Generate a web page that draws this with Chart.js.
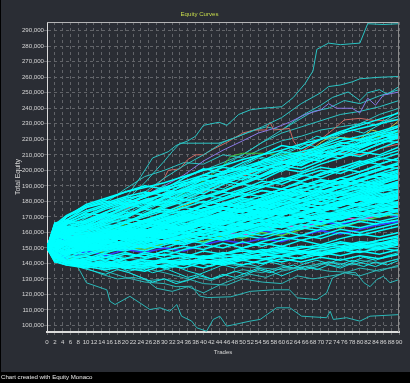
<!DOCTYPE html>
<html>
<head>
<meta charset="utf-8">
<script src="https://cdn.jsdelivr.net/npm/chart.js@4/dist/chart.umd.min.js"></script>
<style>
html,body{margin:0;padding:0;background:#000;}
canvas{display:block;}
</style>
</head>
<body>
<canvas id="c" width="410" height="383"></canvas>
<script>
// ---------------- DATA (equity in thousands) ----------------
const chartTitle = 'Equity Curves';
const xTitle = 'Trades';
const yTitle = 'Total Equity';
const footerText = 'Chart created with Equity Monaco';

// y tick labels (thousands)
const yTickValuesK = [100,110,120,130,140,150,160,170,180,190,200,210,220,230,240,250,260,270,280,290];

// trade numbers shared by the bulk of the simulated curves
const bulkTrades = [0,2,5,10,15,20,25,30,35,40,45,50,55,60,65,70,75,80,85,90];

// bulk curves: equity (thousands) at each of bulkTrades
const bulkEquityK = [
[150,156,154,157,160,158,163,166,170,168,172,175,178,176,180,183,186,184,188,191],
[150,143,147,151,155,153,150,154,157,160,158,162,165,163,167,170,168,172,175,177],
[150,158,160,159,156,161,165,163,168,172,175,173,178,182,180,185,189,187,191,195],
[150,145,141,143,147,150,148,152,155,153,157,160,158,161,165,163,166,169,167,170],
[150,157,153,150,154,157,160,158,162,165,163,167,171,174,172,176,179,182,180,184],
[150,161,163,160,164,162,167,171,174,172,177,181,179,184,188,186,190,194,197,200],
[150,147,150,153,151,155,158,156,160,163,161,164,168,166,170,173,171,175,178,176],
[150,153,152,148,152,149,153,157,155,159,156,160,163,161,158,162,165,163,166,168],
[150,159,164,161,165,169,167,172,176,180,178,183,187,185,190,194,192,197,201,204],
[150,141,145,150,153,157,155,159,163,161,166,169,167,171,175,173,178,181,179,183],
[150,152,156,156,153,157,161,165,163,167,171,169,174,178,176,181,184,182,186,189],
[150,144,140,141,144,140,143,146,144,148,146,150,153,151,155,152,156,159,157,160],
[150,160,157,152,156,160,158,163,161,165,169,167,171,175,178,176,180,183,181,185],
[150,163,166,163,161,166,170,174,172,177,181,185,183,188,192,190,195,199,203,201],
[150,149,152,155,159,157,162,160,164,167,171,169,173,171,175,179,177,181,184,187],
[150,146,144,145,149,152,150,154,152,156,159,157,161,164,162,166,169,172,170,174],
[150,155,151,156,154,158,162,160,165,169,173,171,176,180,178,182,186,189,187,192],
[150,162,158,153,158,156,161,165,169,167,171,175,173,178,181,179,184,187,191,189],
[150,152,147,152,149,153,151,155,158,156,160,163,166,164,168,165,169,172,175,173],
[150,147,154,158,162,166,164,169,173,177,175,180,184,188,186,191,195,193,198,202],
[150,142,143,149,152,150,155,153,157,161,159,163,166,170,168,172,170,174,177,180],
[150,158,157,157,161,159,163,167,171,169,173,177,175,180,183,187,185,189,193,196],
[150,155,153,149,153,157,155,158,156,160,164,162,165,169,167,171,174,178,176,179],
[150,144,142,145,142,146,144,148,151,149,153,150,154,157,155,158,162,160,163,166],
[150,164,162,159,157,162,166,170,168,173,176,174,179,183,181,186,189,193,191,195],
[150,151,155,155,158,162,160,164,168,166,170,174,172,176,180,183,181,185,188,186],
[150,146,148,153,157,155,159,157,161,165,163,167,170,168,172,176,174,178,181,185],
[150,157,156,151,155,153,157,161,159,163,166,164,168,166,170,173,171,175,178,182],
[150,166,168,164,168,173,171,176,180,184,182,187,191,195,193,198,202,206,204,208],
[150,150,146,152,150,154,158,156,160,158,162,166,164,168,171,169,173,176,180,178],
[150,147,141,142,146,143,147,145,149,152,150,154,151,155,158,156,160,158,161,164],
[150,153,158,160,158,163,167,165,170,174,178,176,181,185,183,188,192,190,194,198],
[150,158,155,150,153,157,161,159,163,167,165,169,173,171,175,179,177,181,185,183],
[150,146,151,154,158,156,160,164,162,166,170,168,172,176,180,178,182,185,189,192],
[150,163,161,155,160,164,168,166,171,175,173,178,182,186,184,189,193,191,195,199],
[150,151,147,146,150,148,152,155,153,157,155,159,162,160,164,168,166,169,172,171],
[150,160,157,157,161,159,164,168,172,170,175,179,177,182,186,184,189,193,197,195],
[150,143,149,148,151,155,153,157,160,158,162,165,163,167,170,168,172,175,173,177],
[150,156,159,158,156,161,159,163,167,171,169,174,177,175,180,183,181,186,189,193],
[150,152,146,150,148,152,156,154,158,161,159,163,161,165,168,166,170,173,171,175],
[150,165,164,162,167,171,175,173,178,182,186,184,189,193,197,195,200,204,208,206],
[150,148,153,149,153,151,155,159,157,161,159,163,166,164,167,171,169,172,176,174],
[150,155,153,155,153,157,161,165,163,168,172,170,175,173,177,181,179,183,187,190],
[150,161,161,154,158,163,161,166,170,168,172,176,180,178,183,187,185,190,193,197],
[150,145,147,151,155,153,157,161,159,163,167,165,169,173,171,175,179,177,181,184],
[150,158,157,156,160,164,168,166,171,175,179,177,182,186,190,188,193,197,195,200],
[150,148,143,148,145,149,147,150,148,152,155,153,156,154,158,161,159,162,165,167],
[150,161,158,152,156,160,158,162,166,164,168,172,170,174,178,176,180,184,182,186],
[150,154,152,153,157,155,159,163,161,165,163,167,171,169,172,176,180,178,182,185],
[150,165,167,166,171,176,180,178,184,189,193,191,196,201,199,204,208,212,210,215],
[150,146,148,147,151,149,152,150,154,157,155,158,156,160,163,161,164,167,165,168],
[150,159,157,158,162,160,165,169,167,172,176,174,179,183,181,186,190,188,192,196],
[150,149,153,155,153,157,155,159,163,161,165,169,167,171,175,173,177,181,179,182],
[150,162,162,163,168,166,172,177,181,179,184,188,193,191,196,200,198,203,207,211],
[150,144,146,150,154,152,156,154,158,156,160,164,162,166,164,168,172,170,174,177],
[150,159,156,151,155,159,157,161,165,169,167,171,175,179,177,181,185,183,187,191],
[150,152,149,154,158,162,160,164,162,166,170,174,172,176,180,178,182,186,190,188],
[150,143,142,149,147,151,149,153,156,154,158,156,160,158,162,165,163,167,170,172],
[150,162,160,161,165,163,168,172,176,174,179,183,187,185,190,194,192,197,201,205],
[150,148,153,156,160,158,156,160,164,168,166,170,174,172,176,174,178,182,180,184],
[150,158,158,152,149,153,151,155,158,156,160,158,162,165,163,166,170,168,171,175],
[150,166,162,156,161,166,164,169,173,177,175,180,178,183,187,191,189,194,198,196],
[150,153,150,155,159,163,167,171,169,174,178,182,180,185,189,193,191,196,200,204],
[150,142,146,151,155,159,157,161,159,163,167,165,169,173,171,175,179,177,181,179],
[150,156,155,150,148,152,150,154,152,156,160,158,161,159,163,167,165,169,172,170],
[150,160,159,159,163,167,171,175,173,178,182,186,190,188,193,197,201,199,204,208],
[150,147,147,153,157,155,159,157,161,165,169,167,171,175,173,177,175,179,183,187],
[150,164,159,152,157,161,165,169,167,171,175,173,177,181,185,183,187,191,189,193],
[150,150,155,156,154,150,154,158,156,160,163,161,165,168,166,170,173,171,175,178],
[150,163,161,162,166,171,175,180,178,183,187,191,189,194,198,202,200,205,209,213],
[150,143,140,140,137,140,138,141,139,142,140,143,146,144,147,145,148,151,149,152],
[150,145,143,142,145,141,138,142,140,137,141,139,142,145,143,146,149,147,150,148],
[150,142,141,139,142,138,141,137,140,144,142,145,143,141,144,147,145,148,146,149],
[150,149,145,143,140,143,146,143,146,144,147,145,148,151,148,146,149,152,150,153],
[150,141,139,138,141,137,135,139,137,141,139,142,140,143,141,144,142,145,143,146],
[150,146,143,141,144,147,144,148,146,143,146,149,147,150,148,151,154,152,155,158],
[150,160,168,176,179,183,186,184,191,197,202,200,206,212,210,216,221,219,224,228],
[150,158,161,165,170,176,181,179,186,192,196,194,200,205,203,209,214,212,217,222],
[150,163,166,167,173,178,176,183,188,194,192,198,203,201,207,212,218,216,221,226],
[150,156,160,163,169,174,179,177,183,188,186,192,197,203,201,206,211,209,214,219],
[150,155,159,164,171,169,176,182,187,185,191,196,194,200,205,210,208,214,219,223],
[150,162,170,178,182,186,190,188,195,201,199,205,210,216,214,220,225,229,233,237],
[150,160,163,166,172,170,177,183,181,187,193,198,196,202,208,206,212,218,223,221],
[150,162,168,174,178,182,184,188,191,195,198,201,204,207,210,214,217,220,223,226],
[150,158,165,171,176,180,185,187,192,194,199,202,206,209,212,215,219,222,225,229],
[150,164,170,176,180,178,183,189,193,197,196,200,205,208,211,209,214,218,221,224],
[150,160,166,173,177,181,179,185,190,194,198,202,200,205,210,213,216,215,219,222],
[150,157,163,168,173,177,181,184,188,192,195,199,203,206,204,208,212,216,219,218],
[150,161,167,172,171,176,180,185,187,191,194,197,201,204,208,211,214,212,217,221],
[150,165,171,177,181,186,189,192,196,200,203,207,210,213,217,220,224,227,230,233],
[150,159,166,170,175,179,183,187,186,190,194,198,201,205,209,212,210,215,219,223],
[150,145,142,139,138,139,140,142,141,143,145,144,146,148,147,149,151,150,153,155],
[150,142,139,137,139,137,139,138,141,140,142,144,143,145,148,146,149,152,151,154],
[150,147,143,140,138,140,142,141,143,145,144,146,149,148,150,152,151,154,153,156],
[150,144,140,138,136,138,137,139,142,141,143,142,145,147,146,149,148,150,153,152],
[150,146,144,141,139,141,140,143,145,144,146,148,147,149,151,150,153,152,155,157],
[150,143,141,138,140,137,139,141,140,142,141,144,146,145,148,147,150,153,152,155]
];

// fringe curves sampled every 3 trades
const fringeTrades = [0,3,6,9,12,15,18,21,24,27,30,33,36,39,42,45,48,51,54,57,60,63,66,69,72,75,78,81,84,87,90];
const fringeEquityK = [
[150,156,160,163,167,171,169,173,177,180,178,182,186,189,187,191,195,198,196,200,204,207,205,209,213,216,214,218,222,225,228],
[150,158,162,166,169,173,176,179,183,181,185,188,192,195,193,197,201,204,208,206,210,213,217,215,219,223,226,224,228,232,235],
[150,155,159,164,162,166,170,174,172,176,180,183,181,185,189,192,190,194,198,201,199,203,207,210,208,212,216,219,217,221,224],
[150,160,165,168,172,176,180,178,182,186,190,188,192,196,199,197,201,205,209,207,211,214,218,222,220,224,228,231,229,233,238],
[150,157,161,165,169,167,171,175,179,182,180,184,188,186,190,194,197,195,199,203,206,204,208,212,215,213,217,221,224,222,226],
[150,153,158,161,165,169,172,170,174,178,181,185,183,187,190,188,192,196,199,203,201,205,208,206,210,214,217,215,219,223,221],
[150,145,141,143,139,136,138,135,137,134,136,138,135,133,136,139,137,140,138,141,139,137,140,142,140,143,141,144,142,145,147],
[150,147,144,140,142,139,141,138,136,139,137,134,131,133,130,132,135,133,136,134,137,139,136,138,141,139,142,140,138,141,143],
[150,152,148,145,143,146,144,141,143,140,142,145,143,140,138,141,143,146,144,142,145,147,145,148,146,149,147,150,148,151,150],
[150,144,140,137,135,133,136,134,131,128,130,127,129,132,130,133,131,134,137,135,132,135,138,136,139,137,140,138,141,139,142]
];

// stray curves, each with its own trade numbers and equity (thousands)
const strayTrades = [
[0,3,6,10,14,18,21,24,27,31,33,36,38,40,44,46,49,52,55,60,63,66,68,69,72,75,80,82,86,90],
[0,5,10,15,20,25,30,35,40,45,50,55,60,65,70,72,75,78,80,85,90],
[0,5,10,15,20,25,30,35,40,45,50,54,58,62,66,70,72,74,78,80,82,84,86,90],
[0,5,10,15,20,25,30,31,34,36,38,40,42,46,50,53,56,57,58,62,63,65,70,75,80,85,90],
[0,10,20,30,40,50,60,65,70,74,76,80,84,90],
[0,10,20,30,40,45,47,50,55,60,65,70,75,80,85,90],
[0,10,20,30,40,50,60,66,70,72,76,80,83,86,90],
[0,10,20,30,40,50,55,60,65,70,73,77,80,82,85,87,90],
[0,5,10,15,20,25,30,32,34,40,44,48,52,56,60,64,68,72,76,80,85,90],
[0,10,20,30,35,40,45,50,55,60,65,70,75,80,85,90],
[0,10,20,25,30,35,40,45,50,55,60,65,70,75,80,85,90],
[0,2,4,6,7.6,10.1,15.3,16.1,17.4,21.2,26.3,28.9,31.4,33.2,34.4,37,38.3,40.8,42.5,44.2,45.9,46.8,51.9,54.5,58.7,62.1,65.1,71.5,72.4,73.2,76.6,80,82.6,90],
[0,5,10,15,20,25,30,33,37,39,41,47,52,58,62,64,69,71.5,73,76,80,85,90],
[0,10,20,30,40,50,60,66,72,79,81,82.6,84.3,86,87.7,90],
[0,5,10,15,20,25,30,36,40,46,50,55,60,64,68,75,80,85,90],
[0,5,10,14,18,22,26,30,34,38,42,46,50,55,60,65,70,75,80,85,90],
[0,5,10,15,20,25,28,32,36,40,44,48,52,56,60,66,72,78,84,90]
];
const strayEquityK = [
[150,154,158,163,170,178,185,196,208,212,216,219,222,229,231,229,236,239,240,241,247,256,264,278,282,281,282,294.5,294,294.5],
[150,158,166,172,180,186,195,203,210,218,223,228,234,243,250,254,255,257,259,260,260.5],
[150,156,162,170,177,184,190,197,206,213,219,224,227,231,236,239,243,240,240,237,246.5,242,248.5,250.5],
[150,154,160,166,174,184,195,200,201,207,210,210,213,218,224,226,226,231,226,227,219,212,209,212,210,214,217],
[150,158,166,176,186,196,206,212,220,228,232.5,233.5,232,232.5],
[150,156,165,178,193,203,209,211,211,210,212,214,217,220,222,225],
[150,157,164,172,182,192,202,210,218,221,221,220,226,224,232],
[150,160,170,182,196,210,218,226,235,242,247,250.5,245,250,252,249,254],
[150,155,160,168,180,192,206,212,217.5,217.5,217.5,221,225,228,226,232,238,240,245,243,248,252],
[150,165,175,185,195,200,205,210,218,224,228,232,236,238,241,245],
[150,170,188,196,200,205,204,210,208,214,219,222,226,228,230,236,240],
[150,146,143,141,139,127.5,123,115.6,113.5,118.8,110.3,111.4,109.2,113.5,106,102.8,98.5,96.3,103.9,106,99.6,100,102.8,103.9,111.4,111.4,106,105,109.2,103.9,105,102.8,106,107],
[150,146,140,135,131,128,127,125,125.3,119,118,118.5,122,123,123,117.8,116.7,121,130.7,134,132,136,138],
[150,148,144,140,142,138,136,138,135,134,127.6,125,129.6,131.7,127.6,129.6],
[150,147,144,141,139,137,134,130,127,126,130,128,127,132,130,133,137,135,139],
[150,143,137,133,130,131,129,130,128,131,129,133,136,134,138,136,140,138,142,140,143],
[150,146,141,138,135,130,124,122,125,121,126,130,133,131,135,138,141,139,143,146]
];

const yMinK = 95.8, yMaxK = 295.6;
const xMin = 0, xMax = 90;

// ---------------- STYLE ----------------
const BG = '#2a2d34';
const GRID = '#626469';
const TEXT = '#d6d6d6';
const FONT = '"Liberation Sans", Arial, sans-serif';
const BULK_COLOR = '#00ffff';
const FRINGE_COLOR = '#12e6e6';
const bulkSpecial = {64:'#3a3aff', 46:'#3a3aff', 60:'#d050d0', 57:'#50d050'};
const strayColors = ['#2ac4c4','#2ac4c4','#8a7ae6','#c86a64','#c86a64','#3cc83c','#c8c83c',
  '#2ac4c4','#2ac4c4','#2ac4c4','#2ac4c4','#2ab8b8','#2ab8b8','#2ab8b8','#2ab8b8','#2ab8b8','#2ab8b8'];

const datasets = [];
bulkEquityK.forEach((vals, i) => {
  datasets.push({
    data: vals.map((v, j) => ({x: bulkTrades[j], y: v * 1000})),
    borderColor: bulkSpecial[i] || BULK_COLOR, borderWidth: 1.5
  });
});
fringeEquityK.forEach(vals => {
  datasets.push({
    data: vals.map((v, j) => ({x: fringeTrades[j], y: v * 1000})),
    borderColor: FRINGE_COLOR, borderWidth: 1
  });
});
strayEquityK.forEach((vals, i) => {
  datasets.push({
    data: vals.map((v, j) => ({x: strayTrades[i][j], y: v * 1000})),
    borderColor: strayColors[i], borderWidth: 1
  });
});

const framePlugin = {
  id: 'frame',
  beforeDraw(chart) {
    const c = chart.ctx;
    c.save();
    c.fillStyle = BG;
    c.fillRect(0, 0, chart.width, chart.height);
    c.restore();
  },
  afterDatasetsDraw(chart) {
    const c = chart.ctx, a = chart.chartArea;
    c.save();
    c.lineWidth = 1;
    c.strokeStyle = '#b8b8b8';
    c.beginPath(); c.moveTo(a.left, a.top + 0.5); c.lineTo(a.right, a.top + 0.5); c.stroke();
    c.strokeStyle = '#8c8c8c';
    c.beginPath(); c.moveTo(a.right - 0.5, a.top); c.lineTo(a.right - 0.5, a.bottom); c.stroke();
    c.restore();
  },
  afterDraw(chart) {
    const c = chart.ctx;
    c.save();
    c.fillStyle = '#000';
    c.fillRect(0, 372, chart.width, chart.height - 372);
    c.fillRect(0, 0, 1, 372);
    c.fillStyle = '#e8e8e8';
    c.font = '6.1px ' + FONT;
    c.textBaseline = 'middle';
    c.textAlign = 'left';
    c.fillText(footerText, 1, 377.5);
    c.restore();
  }
};

const tickFont = {family: FONT, size: 6.1};

new Chart(document.getElementById('c'), {
  type: 'line',
  data: {datasets},
  plugins: [framePlugin],
  options: {
    responsive: false,
    animation: false,
    events: [],
    layout: {padding: {left: 0, right: 11, top: 0, bottom: 11}},
    elements: {line: {tension: 0}, point: {radius: 0}},
    plugins: {
      legend: {display: false},
      tooltip: {enabled: false},
      title: {display: true, text: chartTitle, color: '#c8dc4c', font: {family: FONT, size: 6.1, weight: 'normal'},
              padding: {top: 10.3, bottom: 4.4}}
    },
    scales: {
      x: {
        type: 'linear', min: xMin, max: xMax,
        ticks: {stepSize: 2, autoSkip: false, maxRotation: 0, minRotation: 0, color: TEXT, font: tickFont, padding: 3.5},
        grid: {color: GRID, tickLength: 3, tickColor: GRID},
        border: {display: true, color: '#dcdcdc', width: 2, dash: [3, 3]},
        title: {display: true, text: xTitle, color: TEXT, font: tickFont, padding: {top: 0, bottom: 16}},
        afterFit(s) { s.height = 40; }
      },
      y: {
        type: 'linear', min: yMinK * 1000, max: yMaxK * 1000,
        ticks: {autoSkip: false, color: TEXT, font: tickFont, padding: 0,
                callback: v => Number(v).toLocaleString('en-US')},
        afterBuildTicks(s) { s.ticks = yTickValuesK.map(v => ({value: v * 1000})); },
        grid: {color: GRID, tickLength: 3, tickColor: GRID},
        border: {display: true, color: '#dcdcdc', width: 1, dash: [3, 3]},
        title: {display: true, text: yTitle, color: TEXT, font: {family: FONT, size: 7}, padding: {top: 14.3, bottom: 0}},
        afterFit(s) { s.width = 47; }
      }
    }
  }
});
</script>
</body>
</html>
